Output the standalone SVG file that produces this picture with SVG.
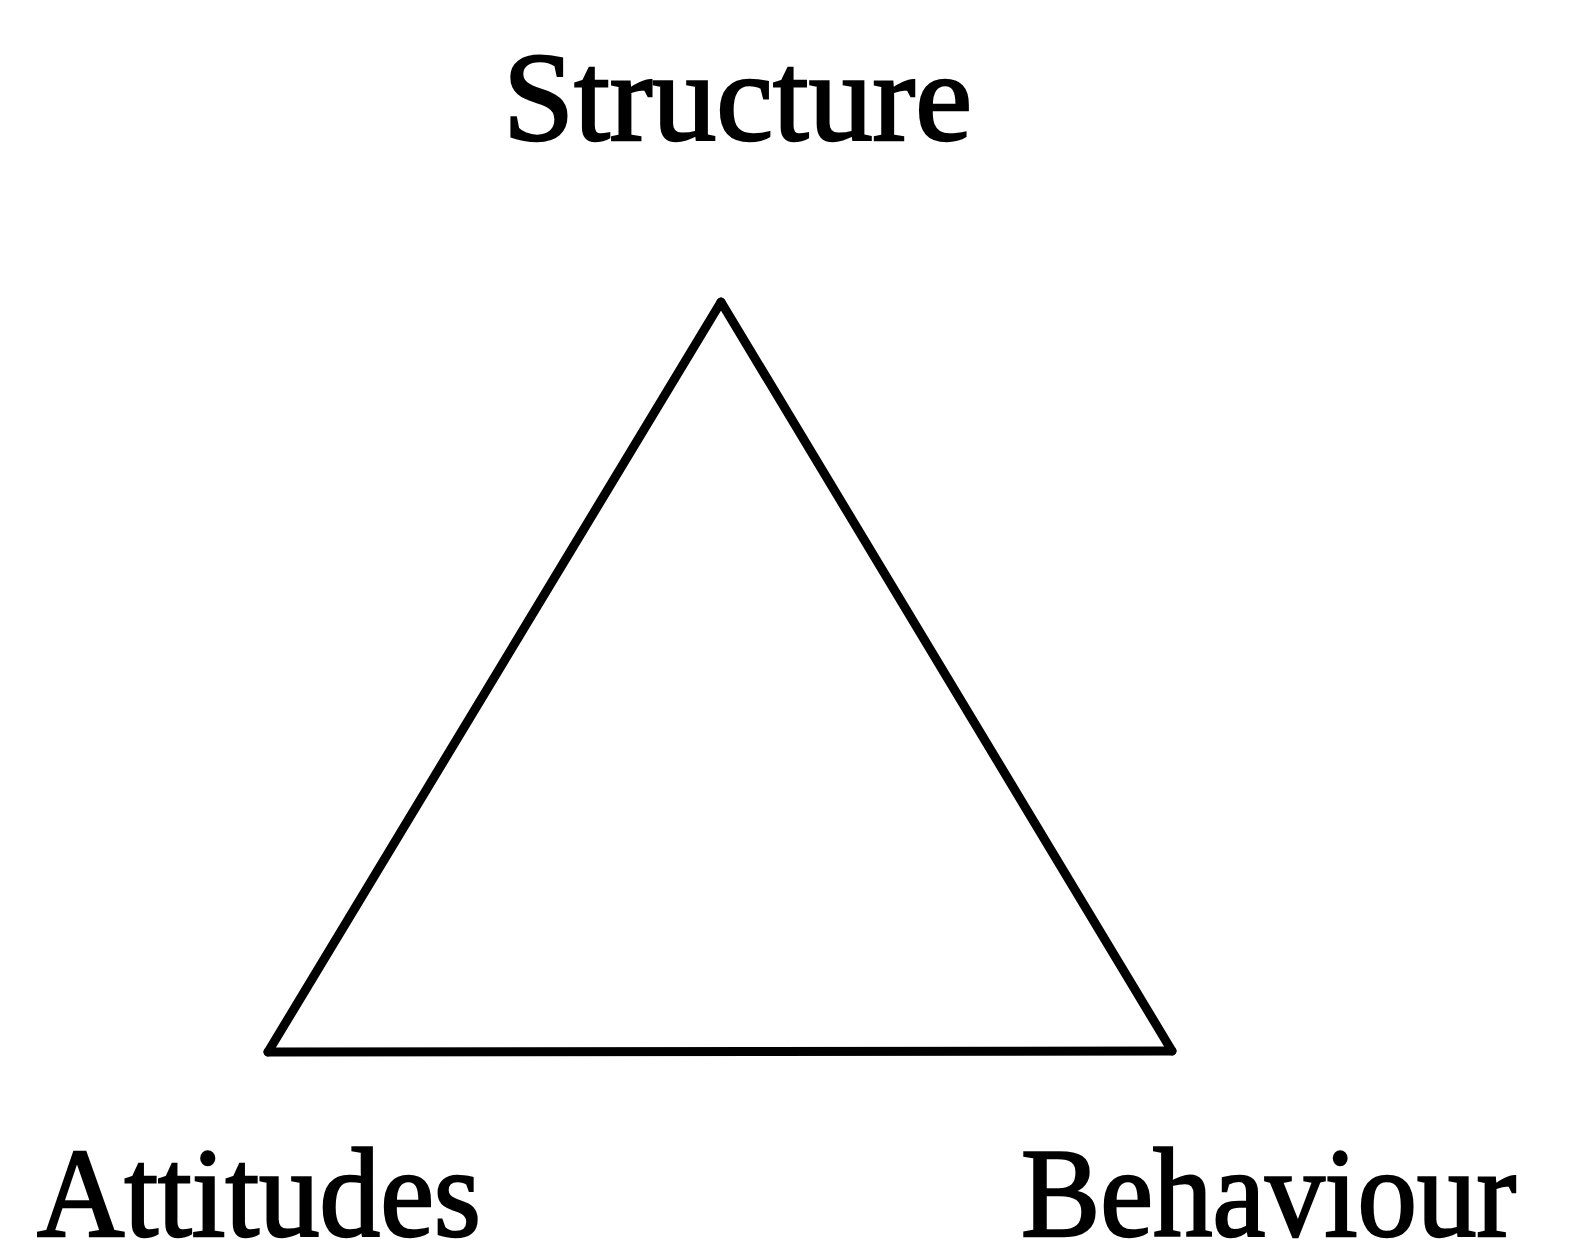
<svg xmlns="http://www.w3.org/2000/svg" width="1571" height="1241" viewBox="0 0 1571 1241">
<style>
.lbl{font-family:"Liberation Serif","Times New Roman",serif;fill:#000;stroke:#000;stroke-width:2.5;}
.edge{fill:none;stroke:#000;stroke-width:9;stroke-linejoin:round;stroke-linecap:round;}
</style>
<rect width="1571" height="1241" fill="#fff"/>
<g id="connectors">
<line class="edge" x1="721" y1="302" x2="1172" y2="1051"/>
<line class="edge" x1="1172" y1="1051" x2="268" y2="1052"/>
<line class="edge" x1="268" y1="1052" x2="721" y2="302"/>
</g>
<g id="node-structure">
<text class="lbl" x="503" y="140" font-size="126" textLength="469" lengthAdjust="spacingAndGlyphs">Structure</text>
</g>
<g id="node-attitudes">
<text class="lbl" x="37" y="1236" font-size="128" textLength="444" lengthAdjust="spacingAndGlyphs">Attitudes</text>
</g>
<g id="node-behaviour">
<text class="lbl" x="1021" y="1236" font-size="128" textLength="495" lengthAdjust="spacingAndGlyphs">Behaviour</text>
</g>
</svg>
